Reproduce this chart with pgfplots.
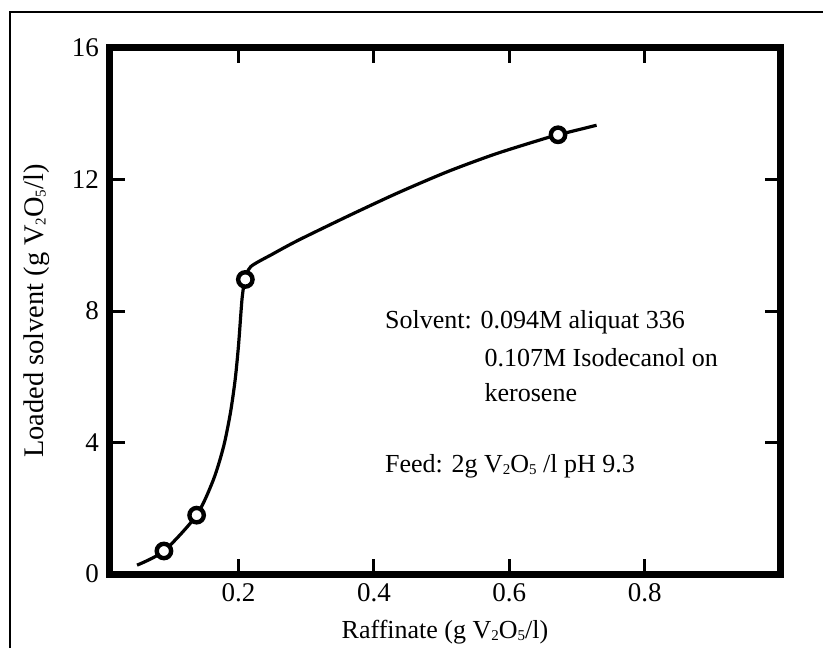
\documentclass[border=0pt]{standalone}
\usepackage{pgfplots}
\pgfplotsset{compat=1.18}
\usepackage{fontspec}
\setmainfont{Liberation Serif}
\newcommand{\sub}[1]{\raisebox{-0.2ex}{\fontsize{7.5}{8}\selectfont #1}}
\begin{document}
\begin{tikzpicture}
\begin{axis}[
  scale only axis,
  width=335pt, height=263pt,
  xmin=0.01, xmax=1.0,
  ymin=0, ymax=16,
  xtick={0.2,0.4,0.6,0.8},
  xticklabels={0.2,0.4,0.6,0.8},
  ytick={0,4,8,12,16},
  tick align=inside,
  tick pos=both,
  major tick length=7.5pt,
  every tick/.style={line width=1.5pt,black},
  axis line style={line width=3.5pt},
  /pgf/number format/assume math mode=true,
  ticklabel style={font=\fontsize{13.5}{15}\selectfont},
  yticklabel style={xshift=-2pt},
  xticklabel style={yshift=-1pt},
  xlabel={Raffinate (g V\sub{2}O\sub{5}/l)},
  ylabel={Loaded solvent (g V\sub{2}O\sub{5}/l)},
  xlabel style={font=\fontsize{13}{15}\selectfont, at={(axis description cs:0.5,0)},anchor=center,yshift=-29pt},
  ylabel style={font=\fontsize{14.2}{16}\selectfont, at={(axis description cs:-0.11,0.5)},anchor=center},
  clip=false,
]
\addplot[black, line width=1.6pt, smooth, tension=0.45] coordinates {
 (0.050,0.27) (0.0897,0.70) (0.138,1.79) (0.163,2.88) (0.178,3.89) (0.188,4.91) (0.195,5.92) (0.200,6.98) (0.205,8.35) (0.209,8.96)
};
\addplot[black, line width=1.6pt, smooth, tension=0.45] coordinates {
 (0.209,8.96) (0.218,9.35) (0.251,9.74) (0.288,10.15) (0.362,10.89) (0.435,11.59) (0.509,12.24) (0.580,12.78) (0.656,13.27) (0.672,13.36) (0.729,13.65)
};
\addplot[only marks, mark=*, mark size=3.6pt, mark options={fill=white, draw=black, line width=2.2pt}] coordinates {
 (0.0897,0.70) (0.138,1.79) (0.210,8.96) (0.672,13.36)
};
\node[anchor=west, font=\fontsize{13}{15}\selectfont, inner sep=0pt] at (axis cs:0.416,7.65) {Solvent: 0.094M aliquat 336};
\node[anchor=west, font=\fontsize{13}{15}\selectfont, inner sep=0pt] at (axis cs:0.563,6.59) {0.107M Isodecanol on};
\node[anchor=west, font=\fontsize{13}{15}\selectfont, inner sep=0pt] at (axis cs:0.563,5.53) {kerosene};
\node[anchor=west, font=\fontsize{13}{15}\selectfont, inner sep=0pt] at (axis cs:0.416,3.28) {Feed: 2g V\sub{2}O\sub{5} /l pH 9.3};
\end{axis}
\pgfresetboundingbox
\path[use as bounding box] ([xshift=-55pt,yshift=-37pt]current axis.south west) rectangle ([xshift=21.5pt,yshift=24pt]current axis.north east);
\draw[line width=1pt] ([xshift=-50pt,yshift=-37pt]current axis.south west) -- ([xshift=-50pt,yshift=18pt]current axis.north west) -- ([xshift=21.5pt,yshift=18pt]current axis.north east);
\end{tikzpicture}
\end{document}
